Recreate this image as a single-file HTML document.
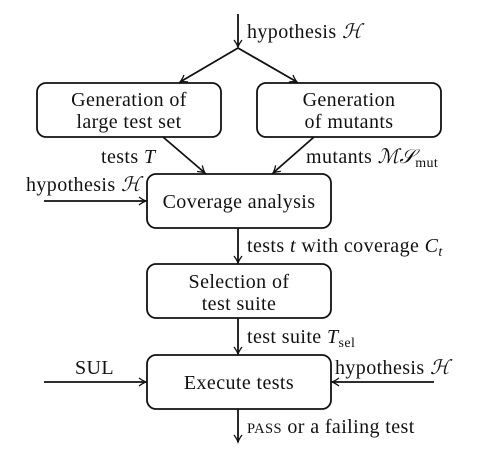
<!DOCTYPE html>
<html><head><style>
body{margin:0;background:#fff;}
svg{display:block;}
text{font-family:"Liberation Serif",serif;font-size:20px;letter-spacing:0.4px;fill:#111;}
.i{font-style:italic;}
</style></head><body>
<svg width="489" height="468" viewBox="0 0 489 468">
<defs><marker id="a" markerWidth="10" markerHeight="10" refX="8" refY="5" orient="auto" markerUnits="userSpaceOnUse">
<path d="M1,1 Q5,4 8,5 Q5,6 1,9" fill="none" stroke="#111" stroke-width="1.3"/></marker></defs>
<g stroke="#111" stroke-width="1.8" fill="none">
<line x1="238" y1="14" x2="238" y2="47" marker-end="url(#a)"/>
<line x1="238" y1="48" x2="180" y2="82" marker-end="url(#a)"/>
<line x1="238" y1="48" x2="297" y2="82" marker-end="url(#a)"/>
<rect x="37" y="83" width="184" height="54" rx="9"/>
<rect x="257" y="83" width="184" height="54" rx="9"/>
<line x1="163" y1="137" x2="205" y2="173" marker-end="url(#a)"/>
<line x1="314" y1="137" x2="273" y2="173" marker-end="url(#a)"/>
<rect x="147" y="174" width="184" height="54" rx="9"/>
<line x1="44" y1="201" x2="146" y2="201" marker-end="url(#a)"/>
<line x1="238" y1="228" x2="238" y2="263" marker-end="url(#a)"/>
<rect x="147" y="264" width="184" height="54" rx="9"/>
<line x1="238" y1="318" x2="238" y2="354" marker-end="url(#a)"/>
<rect x="147" y="355" width="184" height="54" rx="9"/>
<line x1="44" y1="382" x2="146" y2="382" marker-end="url(#a)"/>
<line x1="434" y1="382" x2="332" y2="382" marker-end="url(#a)"/>
<line x1="238" y1="409" x2="238" y2="442" marker-end="url(#a)"/>
</g>
<text x="247" y="38">hypothesis <tspan class="i">ℋ</tspan></text>
<text x="129" y="106" text-anchor="middle">Generation of</text>
<text x="129" y="128" text-anchor="middle">large test set</text>
<text x="349" y="106" text-anchor="middle">Generation</text>
<text x="349" y="128" text-anchor="middle">of mutants</text>
<text x="101" y="163">tests <tspan class="i">T</tspan></text>
<text x="306" y="163">mutants <tspan class="i">ℳ𝒮</tspan><tspan font-size="14" dy="4">mut</tspan></text>
<text x="26" y="191">hypothesis <tspan class="i">ℋ</tspan></text>
<text x="239" y="208" text-anchor="middle">Coverage analysis</text>
<text x="247" y="252">tests <tspan class="i">t</tspan> with coverage <tspan class="i">C</tspan><tspan class="i" font-size="14" dy="4">t</tspan></text>
<text x="239" y="288" text-anchor="middle">Selection of</text>
<text x="239" y="310" text-anchor="middle">test suite</text>
<text x="247" y="343">test suite <tspan class="i">T</tspan><tspan font-size="14" dy="4">sel</tspan></text>
<text x="75" y="374">SUL</text>
<text x="239" y="389" text-anchor="middle">Execute tests</text>
<text x="335" y="374">hypothesis <tspan class="i">ℋ</tspan></text>
<text x="247" y="433"><tspan font-size="14.5">PASS</tspan> or a failing test</text>
</svg>
</body></html>
